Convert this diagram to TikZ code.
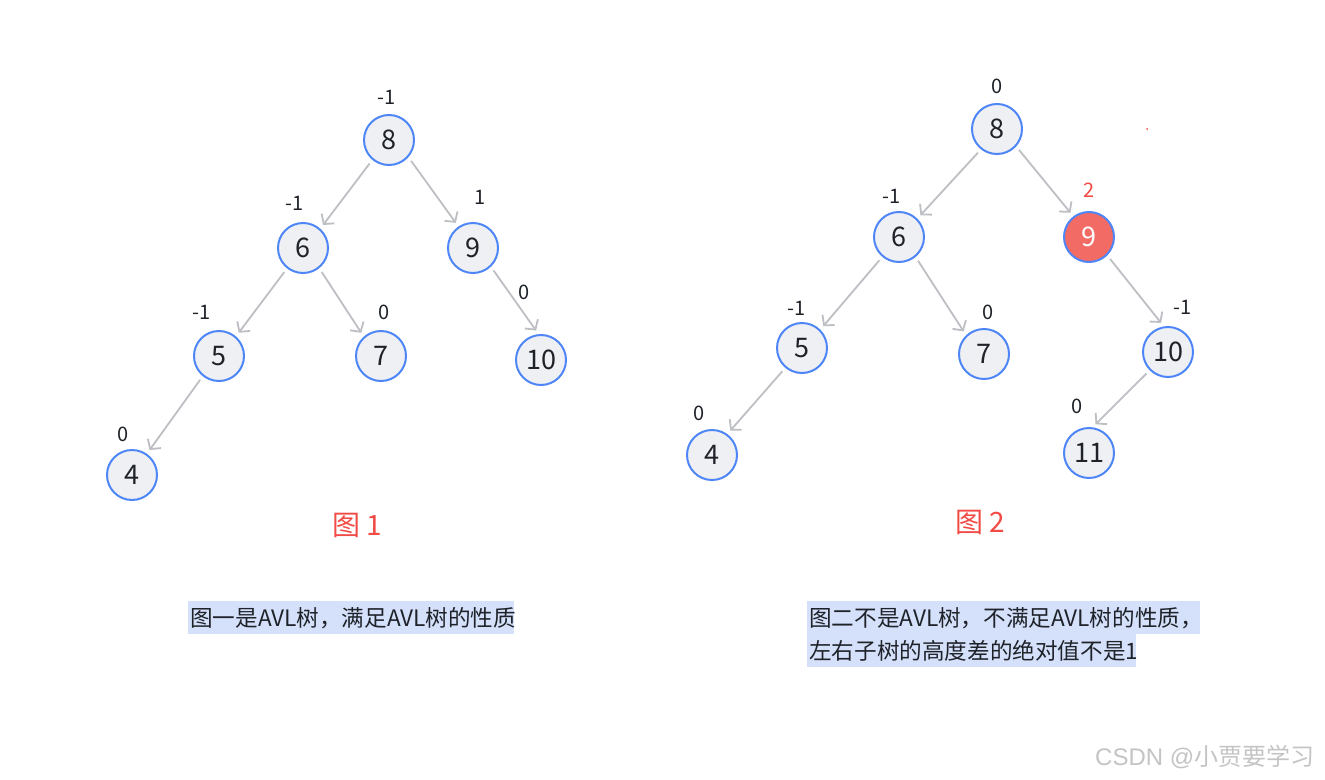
\documentclass[tikz,border=0pt]{standalone}
\usepackage{fontspec}
\usetikzlibrary{arrows.meta}
\setmainfont{Noto Sans CJK SC}
\newfontfamily\wmlatin{Liberation Sans}
\definecolor{nodeblue}{HTML}{4F86F7}
\definecolor{nodefill}{HTML}{EEF0F3}
\definecolor{edgegray}{HTML}{BDBFC4}
\definecolor{redfill}{HTML}{F26B64}
\definecolor{capred}{HTML}{F24A45}
\definecolor{hl}{HTML}{D5E1FB}
\definecolor{txt}{HTML}{1F2329}
\definecolor{wmgray}{HTML}{C4C4C4}
\begin{document}
\begin{tikzpicture}[x=1pt,y=-1pt,
  tnode/.style={circle,draw=nodeblue,line width=2pt,fill=nodefill,minimum size=50pt,inner sep=0pt,outer sep=0pt,text=txt,font=\fontsize{27}{27}\selectfont},
  bal/.style={inner sep=0pt,text=txt,font=\fontsize{20}{20}\selectfont},
  edge/.style={draw=edgegray,line width=1.8pt,-{Straight Barb[length=7pt,width=16pt]},shorten >=5.5pt,shorten <=5.5pt},
  captext/.style={inner sep=0pt,text=capred,font=\fontsize{28}{28}\selectfont},
  body/.style={anchor=west,inner sep=0pt,text=txt,font=\fontsize{22.6}{22.6}\selectfont}]
\useasboundingbox (0,0) rectangle (1325,779);
\fill[white] (0,0) rectangle (1325,779);

% ---------- Tree 1 ----------
\node[tnode] (a8) at (389,140) {8};
\node[tnode] (a6) at (303,248) {6};
\node[tnode] (a9) at (473,248) {9};
\node[tnode] (a5) at (219,356) {5};
\node[tnode] (a7) at (381,356) {7};
\node[tnode] (a10) at (541,360) {10};
\node[tnode] (a4) at (132,475) {4};

\node[bal] (la8) at (387,97) {-1};
\node[bal] (la6) at (295,203) {-1};
\node[bal] (la9) at (480,197) {1};
\node[bal] (la5) at (202,312) {-1};
\node[bal] (la7) at (384,312) {0};
\node[bal] (la10) at (524,292) {0};
\node[bal] (la4) at (123,434) {0};

\draw[edge] (a8.-130) -- (a6.48);
\draw[edge] (a8.-41) -- (a9.124);
\draw[edge] (a6.-128) -- (a5.49);
\draw[edge] (a6.-51) -- (a7.132);
\draw[edge] (a9.-46) -- (a10.94);
\draw[edge] (a5.-129) -- (a4.55);

% ---------- Tree 2 ----------
\node[tnode] (b8) at (997,129) {8};
\node[tnode] (b6) at (899,237) {6};
\node[tnode,fill=redfill,text=white] (b9) at (1089,237) {9};
\node[tnode] (b5) at (802,348) {5};
\node[tnode] (b7) at (984,354) {7};
\node[tnode] (b10) at (1168,352) {10};
\node[tnode] (b4) at (712,455) {4};
\node[tnode] (b11) at (1089,453) {11};

\node[bal] (lb8) at (997,86) {0};
\node[bal] (lb6) at (892,196) {-1};
\node[bal,text=capred] (lb9) at (1089,190) {2};
\node[bal] (lb5) at (797,308) {-1};
\node[bal] (lb7) at (988,312) {0};
\node[bal] (lb10) at (1183,307) {-1};
\node[bal] (lb4) at (699,413) {0};
\node[bal] (lb11) at (1077,406) {0};

\draw[edge] (b8.-128) -- (b6.45);
\draw[edge] (b8.-42) -- (b9.127);
\draw[edge] (b6.-130) -- (b5.45);
\draw[edge] (b6.-50) -- (b7.134);
\draw[edge] (b9.-45) -- (b10.98);
\draw[edge] (b5.-130) -- (b4.54);
\draw[edge] (b10.-135) -- (b11.84);

\fill[capred] (1147,129) circle (1pt);

% ---------- Captions ----------
\node[captext] (c1) at (357,525) {图 1};
\node[captext] (c2) at (980,522) {图 2};

% ---------- Notes ----------
\fill[hl] (188,601) rectangle (514,634);
\fill[hl] (807,601) rectangle (1200,634);
\fill[hl] (807,634) rectangle (1136,667);
\node[body] (t1) at (190,618) {图一是AVL树，满足AVL树的性质};
\node[body] (t2) at (809,618) {图二不是AVL树，不满足AVL树的性质，};
\node[body] (t3) at (809,651) {左右子树的高度差的绝对值不是1};

% ---------- Watermark ----------
\node[anchor=west,inner sep=0pt,text=wmgray,font=\fontsize{24}{24}\selectfont] (wm) at (1095,757) {{\wmlatin CSDN @}小贾要学习};
\end{tikzpicture}
\end{document}
